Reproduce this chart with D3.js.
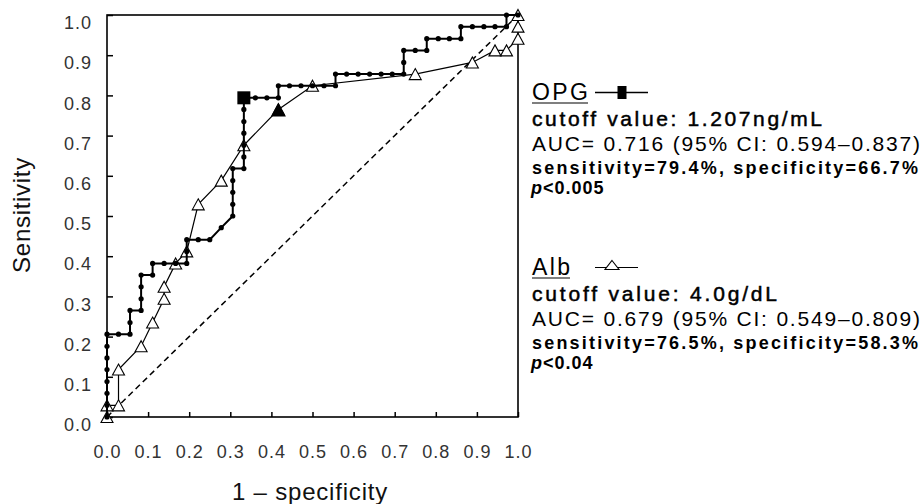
<!DOCTYPE html>
<html>
<head>
  <meta charset='utf-8'>
  <style>

  body {
    margin: 0;
    background: #fff;
  }

  text {
    font-family: Arial, 'Liberation Sans', sans-serif;
  }

  .axis path {
    display: none;
  }

  .axis line {
    stroke: #000;
    stroke-width: 1.5px;
  }

  .axis text {
    font-size: 18px;
    fill: #333;
    letter-spacing: 1px;
  }

  .frame {
    fill: none;
    stroke: #000;
    stroke-width: 1.6px;
  }

  .chance {
    stroke: #000;
    stroke-width: 1.5px;
    stroke-dasharray: 6,4;
  }

  .line-opg {
    fill: none;
    stroke: #000;
    stroke-width: 2px;
  }

  .line-alb {
    fill: none;
    stroke: #000;
    stroke-width: 1.2px;
  }

  .semibold {
    stroke: #000;
    stroke-width: 0.5px;
  }

  </style>
</head>
<body>
<script src='https://d3js.org/d3.v7.min.js'></script>
<script>

var SVG_WIDTH = 924;
var SVG_HEIGHT = 504;

// tick values on both axes
var TICKS = [0, 0.1, 0.2, 0.3, 0.4, 0.5, 0.6, 0.7, 0.8, 0.9, 1.0];

// OPG ROC curve (1 - specificity, sensitivity), one entry per dot
var opgFpr = [0, 0, 0, 0, 0, 0, 0, 0, 0.028, 0.056, 0.056, 0.056, 0.083, 0.083, 0.083, 0.083,
  0.111, 0.111, 0.139, 0.167, 0.194, 0.194, 0.194, 0.222, 0.25, 0.278, 0.306, 0.306, 0.306,
  0.306, 0.306, 0.333, 0.333, 0.333, 0.333, 0.333, 0.333, 0.333, 0.361, 0.389, 0.417, 0.417,
  0.444, 0.472, 0.5, 0.528, 0.556, 0.556, 0.583, 0.611, 0.639, 0.667, 0.694, 0.722, 0.722,
  0.722, 0.75, 0.778, 0.778, 0.806, 0.833, 0.861, 0.861, 0.889, 0.917, 0.944, 0.972, 0.972, 1];
var opgTpr = [0, 0.029, 0.059, 0.088, 0.118, 0.147, 0.176, 0.206, 0.206, 0.206, 0.235, 0.265,
  0.265, 0.294, 0.324, 0.353, 0.353, 0.382, 0.382, 0.382, 0.382, 0.412, 0.441, 0.441, 0.441,
  0.471, 0.5, 0.529, 0.559, 0.588, 0.618, 0.618, 0.647, 0.676, 0.706, 0.735, 0.765, 0.794,
  0.794, 0.794, 0.794, 0.824, 0.824, 0.824, 0.824, 0.824, 0.824, 0.853, 0.853, 0.853, 0.853,
  0.853, 0.853, 0.853, 0.882, 0.912, 0.912, 0.912, 0.941, 0.941, 0.941, 0.941, 0.971, 0.971,
  0.971, 0.971, 0.971, 1, 1];

// Alb ROC curve, one entry per triangle
var albFpr = [0, 0, 0.028, 0.028, 0.083, 0.111, 0.139, 0.139, 0.167, 0.194, 0.222, 0.278,
  0.333, 0.417, 0.5, 0.75, 0.889, 0.944, 0.972, 1, 1, 1];
var albTpr = [0, 0.029, 0.029, 0.118, 0.176, 0.235, 0.294, 0.324, 0.382, 0.412, 0.529, 0.588,
  0.676, 0.765, 0.824, 0.853, 0.882, 0.912, 0.912, 0.941, 0.971, 1];

// cutoff points
var opgCutoff = [0.333, 0.794];
var albCutoff = [0.417, 0.765];

// legend texts
var opgName = 'OPG';
var opgLines = ['cutoff value: 1.207ng/mL', 'AUC= 0.716 (95% CI: 0.594\u20130.837)',
  'sensitivity=79.4%, specificity=66.7%', '<0.005'];
var albName = 'Alb';
var albLines = ['cutoff value: 4.0g/dL', 'AUC= 0.679 (95% CI: 0.549\u20130.809)',
  'sensitivity=76.5%, specificity=58.3%', '<0.04'];

var svg = d3.select('body').append('svg')
    .attr('width', SVG_WIDTH)
    .attr('height', SVG_HEIGHT),
    margin = {top: 15, right: 406, bottom: 87, left: 107},
    width = SVG_WIDTH - margin.left - margin.right,
    height = SVG_HEIGHT - margin.top - margin.bottom,
    g = svg.append('g').attr('transform', 'translate(' + margin.left + ',' + margin.top + ')');

var x = d3.scaleLinear().domain([0, 1]).range([0, width]);
var y = d3.scaleLinear().domain([0, 1]).range([height, 0]);

var fmt = d3.format('.1f');

g.append('g')
    .attr('class', 'axis axis--x')
    .attr('transform', 'translate(0,' + height + ')')
    .call(d3.axisBottom(x).tickValues(TICKS).tickFormat(fmt).tickSize(-5).tickPadding(28));

g.append('g')
    .attr('class', 'axis axis--y')
    .call(d3.axisLeft(y).tickValues(TICKS).tickFormat(fmt).tickSize(-6).tickPadding(15))
  .selectAll('text')
    .attr('y', 8);

g.append('rect')
    .attr('class', 'frame')
    .attr('width', width)
    .attr('height', height);

g.append('line')
    .attr('class', 'chance')
    .attr('x1', x(0)).attr('y1', y(0))
    .attr('x2', x(1)).attr('y2', y(1));

var line = d3.line()
    .x(function(d) { return x(d[0]); })
    .y(function(d) { return y(d[1]); });

var opg = d3.zip(opgFpr, opgTpr);
var alb = d3.zip(albFpr, albTpr);

function tri(w, h) {
  return 'M0,' + (-h / 2) + 'L' + (w / 2) + ',' + (h / 2) + 'L' + (-w / 2) + ',' + (h / 2) + 'Z';
}

g.append('path')
    .datum(alb)
    .attr('class', 'line-alb')
    .attr('d', line);

g.selectAll('.tri')
    .data(alb)
  .enter().append('path')
    .attr('class', 'tri')
    .attr('d', tri(12, 11))
    .attr('transform', function(d) { return 'translate(' + x(d[0]) + ',' + y(d[1]) + ')'; })
    .attr('fill', '#fff')
    .attr('stroke', '#000')
    .attr('stroke-width', 1.1);

g.append('path')
    .datum(opg)
    .attr('class', 'line-opg')
    .attr('d', line);

g.selectAll('.dot')
    .data(opg)
  .enter().append('circle')
    .attr('class', 'dot')
    .attr('cx', function(d) { return x(d[0]); })
    .attr('cy', function(d) { return y(d[1]); })
    .attr('r', 2.6)
    .attr('fill', '#000');

g.append('rect')
    .attr('x', x(opgCutoff[0]) - 6.5)
    .attr('y', y(opgCutoff[1]) - 6.5)
    .attr('width', 13)
    .attr('height', 13)
    .attr('fill', '#000');

g.append('path')
    .attr('d', tri(15, 14))
    .attr('transform', 'translate(' + x(albCutoff[0]) + ',' + y(albCutoff[1]) + ')')
    .attr('fill', '#000');

// axis titles
svg.append('text')
    .attr('transform', 'translate(30,215) rotate(-90)')
    .attr('text-anchor', 'middle')
    .style('font-size', '24px')
    .style('letter-spacing', '0.7px')
    .attr('fill', '#111')
    .text('Sensitivity');

svg.append('text')
    .attr('x', 310)
    .attr('y', 500)
    .attr('text-anchor', 'middle')
    .style('font-size', '24px')
    .style('letter-spacing', '0.8px')
    .attr('fill', '#111')
    .text('1 \u2013 specificity');

// legend blocks
function legend(top, name, nameWidth, lines, widths, marker) {
  var lg = svg.append('g').attr('transform', 'translate(532,' + top + ')');

  lg.append('text')
      .attr('y', 0)
      .style('font-size', '23px')
      .attr('textLength', nameWidth)
      .attr('lengthAdjust', 'spacing')
      .text(name);

  lg.append('line')
      .attr('x1', 0).attr('x2', nameWidth)
      .attr('y1', 3).attr('y2', 3)
      .attr('stroke', '#000')
      .attr('stroke-width', 1.2);

  marker(lg);

  lg.append('text')
      .attr('class', 'semibold')
      .attr('y', 26)
      .style('font-size', '21px')
      .attr('textLength', widths[0])
      .attr('lengthAdjust', 'spacing')
      .text(lines[0]);

  lg.append('text')
      .attr('y', 51)
      .style('font-size', '21px')
      .attr('textLength', widths[1])
      .attr('lengthAdjust', 'spacing')
      .text(lines[1]);

  lg.append('text')
      .attr('y', 74)
      .style('font-size', '18px')
      .style('font-weight', 'bold')
      .attr('textLength', widths[2])
      .attr('lengthAdjust', 'spacing')
      .text(lines[2]);

  var p = lg.append('text')
      .attr('x', -1)
      .attr('y', 94)
      .style('font-size', '18px')
      .style('font-weight', 'bold')
      .style('letter-spacing', '1px');
  p.append('tspan').style('font-style', 'italic').text('p');
  p.append('tspan').text(lines[3]);
}

legend(100, opgName, 56, opgLines, [290, 388, 386], function(lg) {
  lg.append('line')
      .attr('x1', 63).attr('x2', 116)
      .attr('y1', -7.5).attr('y2', -7.5)
      .attr('stroke', '#000')
      .attr('stroke-width', 1.5);
  lg.append('rect')
      .attr('x', 85.5).attr('y', -14)
      .attr('width', 9).attr('height', 13)
      .attr('fill', '#000');
});

legend(275, albName, 38, albLines, [245, 388, 386], function(lg) {
  lg.append('line')
      .attr('x1', 63).attr('x2', 106)
      .attr('y1', -7.5).attr('y2', -7.5)
      .attr('stroke', '#000')
      .attr('stroke-width', 1.2);
  lg.append('path')
      .attr('d', tri(14, 9))
      .attr('transform', 'translate(80,-10)')
      .attr('fill', '#fff')
      .attr('stroke', '#000')
      .attr('stroke-width', 1.1);
});

</script>
</body>
</html>
